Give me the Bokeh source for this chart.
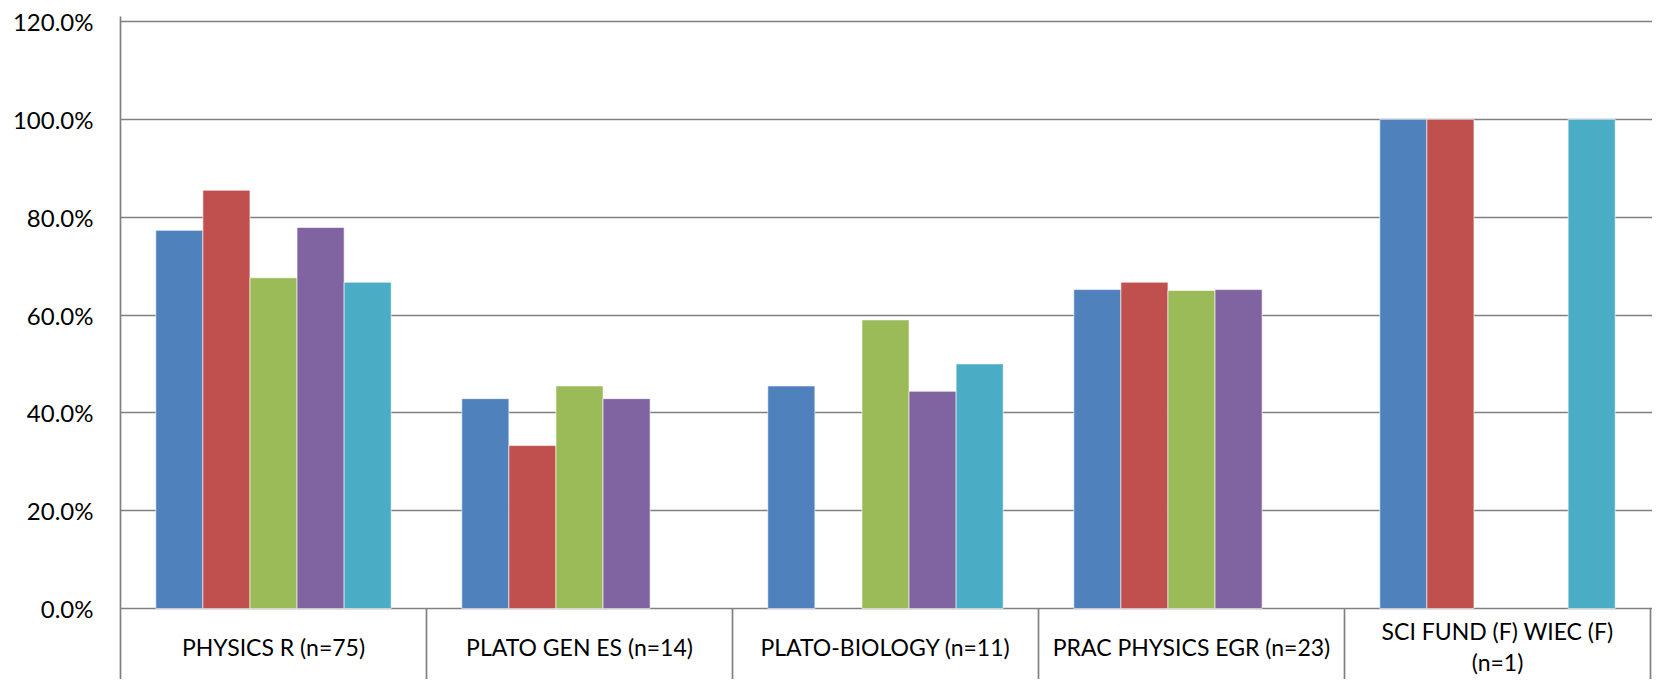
from bokeh.plotting import figure
from bokeh.models import Range1d, FixedTicker, PrintfTickFormatter, ColumnDataSource
from bokeh.core.properties import value
from bokeh.embed import file_html
from bokeh.resources import INLINE

# ---- data ----
categories = [
    "PHYSICS R (n=75)",
    "PLATO GEN ES (n=14)",
    "PLATO-BIOLOGY (n=11)",
    "PRAC PHYSICS EGR (n=23)",
    "SCI FUND (F) WIEC (F)\n(n=1)",
]
series_1 = [77.3, 42.9, 45.5, 65.2, 100.0]
series_2 = [85.5, 33.3, None, 66.7, 100.0]
series_3 = [67.6, 45.5, 59.0, 65.0, None]
series_4 = [77.9, 42.9, 44.4, 65.2, None]
series_5 = [66.7, None, 50.0, None, 100.0]
series_colors = ["#4F81BD", "#C0504D", "#9BBB59", "#8064A2", "#4BACC6"]
y_ticks = [0, 20, 40, 60, 80, 100, 120]

all_series = [series_1, series_2, series_3, series_4, series_5]

# ---- layout constants (pixels on the canvas) ----
W, H = 1652, 679
top_px, zero_px, bottom_px = 16, 608, H
px_per_unit = (608 - 21) / 120.0
frame_left = 120
frame_w = W - frame_left
cat_w_px = 306.0

y_start = -(bottom_px - zero_px) / px_per_unit
y_end = (zero_px - top_px) / px_per_unit
x_end = frame_w / cat_w_px

p = figure(width=W, height=H, output_backend="svg", toolbar_location=None,
           x_range=Range1d(0, x_end), y_range=Range1d(y_start, y_end),
           min_border_left=frame_left, min_border_right=0,
           min_border_top=top_px, min_border_bottom=0)
p.outline_line_color = None
p.background_fill_color = "white"
p.border_fill_color = "white"

grid_color = "#808080"

p.xaxis.visible = False
p.xgrid.visible = False
p.ygrid.ticker = FixedTicker(ticks=y_ticks)
p.ygrid.grid_line_color = grid_color
p.ygrid.grid_line_width = 1.7

ax = p.yaxis[0]
ax.ticker = FixedTicker(ticks=y_ticks)
ax.formatter = PrintfTickFormatter(format="%.1f%%")
ax.major_tick_line_color = None
ax.minor_tick_line_color = None
ax.major_tick_in = 0
ax.major_tick_out = 0
ax.major_label_standoff = 27
ax.major_label_text_font = "Lato"
ax.major_label_text_font_size = "24px"
ax.major_label_text_color = "black"
ax.axis_line_color = grid_color
ax.axis_line_width = 1.7

n_series = len(all_series)
bar_w = 1.0 / (n_series + 1.5)
for j, (vals, col) in enumerate(zip(all_series, series_colors)):
    xs, tops = [], []
    for i, v in enumerate(vals):
        if v is None:
            continue
        xs.append(i + 0.5 + (j - (n_series - 1) / 2.0) * bar_w)
        tops.append(v)
    src = ColumnDataSource(dict(x=xs, top=tops))
    p.vbar(x="x", top="top", bottom=0, width=bar_w, source=src,
           fill_color=col, line_color="white", line_alpha=0.6, line_width=1)

# category cell dividers below the axis
n_cat = len(categories)
div_x = [i for i in range(1, n_cat + 1)]
p.segment(x0=div_x, y0=[0] * len(div_x), x1=div_x, y1=[y_start] * len(div_x),
          line_color=grid_color, line_width=1.7)

# category labels (multi-line labels split and centred as a block)
label_center_px = 646
line_gap_px = 31
lx, ly, lt = [], [], []
for i, cat in enumerate(categories):
    lines = cat.split("\n")
    n = len(lines)
    for k, line in enumerate(lines):
        ypx = label_center_px + (k - (n - 1) / 2.0) * line_gap_px
        lx.append(i + 0.5)
        ly.append(-(ypx - zero_px) / px_per_unit)
        lt.append(line)
p.text(x=lx, y=ly, text=lt,
       text_align="center", text_baseline="middle", text_font=value("Lato"),
       text_font_size="23px", text_color="black")

open("out.html", "w").write(file_html(p, INLINE))
